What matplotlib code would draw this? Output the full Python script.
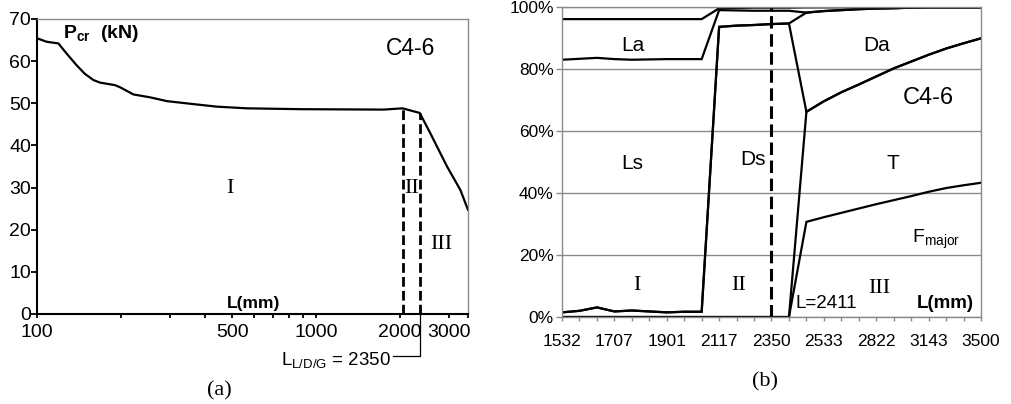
import numpy as np
import matplotlib
matplotlib.use('Agg')
import matplotlib.pyplot as plt
from matplotlib.ticker import FixedLocator, FixedFormatter, NullLocator

plt.rcParams['font.family'] = ['Liberation Sans', 'DejaVu Sans']
plt.rcParams['mathtext.fontset'] = 'custom'
plt.rcParams['mathtext.rm'] = 'Liberation Sans'
plt.rcParams['mathtext.bf'] = 'Liberation Sans:bold'
plt.rcParams['mathtext.it'] = 'Liberation Sans:italic'
plt.rcParams['lines.scale_dashes'] = False

# (a) critical load vs column length, log x
length_mm = [100, 108, 119, 127, 138, 148, 159, 168, 190, 198, 221, 254, 292,
             363, 440, 565, 876, 1743, 2040, 2350, 2564, 2944, 3288, 3500]
p_cr_kn = [65.4, 64.6, 64.2, 61.9, 59.1, 57.0, 55.5, 54.9, 54.3, 53.8, 52.1,
           51.4, 50.5, 49.8, 49.2, 48.8, 48.6, 48.5, 48.8, 47.7, 42.9, 35.0,
           29.4, 24.7]
limit_mm = [2040, 2350]
limit_p = [48.8, 47.7]
a_ticks = [100, 200, 300, 400, 500, 600, 700, 800, 900, 1000, 2000, 3000, 3500]
a_labels = ['100', '', '', '', '500', '', '', '', '', '1000', '2000', '3000', '']
a_yticks = [0, 10, 20, 30, 40, 50, 60, 70]

# (b) modal participation, stacked, one value per length step
b_labels = ['1532', '1707', '1901', '2117', '2350', '2533', '2822', '3143', '3500']
f_major = [0] * 14 + [30.7, 32.2, 33.6, 35.0, 36.4, 37.7, 39.0, 40.4, 41.6, 42.5, 43.3]
t_mode = [0] * 14 + [35.5, 37.4, 38.9, 40.0, 41.2, 42.5, 43.4, 44.2, 45.0, 45.8, 46.6]
ds = [1.5, 2.0, 3.1, 1.8, 2.1, 1.8, 1.5, 1.7, 1.7,
      93.6, 94.0, 94.2, 94.5, 94.7] + [0] * 11
da = [0] * 14 + [32.0, 29.1, 26.5, 24.3, 21.9, 19.4, 17.4, 15.3, 13.3, 11.6, 10.0]
ls = [81.5, 81.3, 80.5, 81.4, 80.9, 81.3, 81.7, 81.5, 81.5,
      5.4, 4.9, 4.6, 4.3, 4.1] + [0] * 11
la = [13.1, 12.8, 12.5, 12.9, 13.1, 13.0, 12.9, 12.9, 12.9,
      0.6, 0.8, 1.0, 1.0, 1.0, 1.7, 1.2, 0.9, 0.6, 0.4, 0.3, 0.1, 0, 0, 0, 0]
b_mark = 12  # L = 2350

fig = plt.figure(figsize=(10.11, 4.04), dpi=100)
gray = '#8a8a8a'
serif = 'Liberation Serif'

# ---- panel (a)
ax = fig.add_axes([0.0369, 0.2228, 0.4260, 0.7302])
ax.plot(length_mm, p_cr_kn, color='k', lw=1.6)
for L, p in zip(limit_mm, limit_p):
    ax.plot([L, L], [0, p], color='k', lw=2.0, dashes=(7, 3))
ax.plot([limit_mm[1], limit_mm[1], 1888], [0, -9.9, -9.9], color='k', lw=0.9,
        clip_on=False)
ax.set_xscale('log')
ax.set_xlim(100, 3500)
ax.set_ylim(0, 70)
ax.xaxis.set_major_locator(FixedLocator(a_ticks))
ax.xaxis.set_major_formatter(FixedFormatter(a_labels))
ax.xaxis.set_minor_locator(NullLocator())
ax.set_yticks(a_yticks)
ax.tick_params(axis='both', labelsize=14, direction='out', width=1.3, color='k')
ax.tick_params(axis='x', length=3, pad=4.5)
ax.tick_params(axis='y', length=4, pad=0.5)
for s in ['left', 'bottom']:
    ax.spines[s].set_linewidth(1.5)
for s in ['top', 'right']:
    ax.spines[s].set_color(gray)
    ax.spines[s].set_linewidth(1.0)

ax.text(124, 66.6, r'$\mathbf{P}_{\mathbf{cr}}$  (kN)', fontsize=14,
        fontweight='bold', va='center', ha='left')
ax.text(2174, 63.0, 'C4-6', fontsize=16.5, ha='center', va='center')
ax.text(489, 29.8, 'I', family=serif, fontsize=16, ha='center', va='center')
ax.text(2193, 29.8, 'II', family=serif, fontsize=16, ha='center', va='center')
ax.text(2803, 16.6, 'III', family=serif, fontsize=16, ha='center', va='center')
ax.text(596, 2.4, 'L(mm)', fontsize=12.5, fontweight='bold', ha='center',
        va='center')
ax.text(1843, -10.8, r'L$_{\mathrm{L/D/G}}$ = 2350', fontsize=13.5, ha='right',
        va='center', clip_on=False)
ax.text(0.422, -0.26, '(a)', family=serif, fontsize=16, ha='center', va='center',
        transform=ax.transAxes)

# ---- panel (b)
bx = fig.add_axes([0.5559, 0.2153, 0.4144, 0.7673])
idx = np.arange(len(f_major))
stack = np.cumsum(np.array([f_major, t_mode, ds, da, ls, la]), axis=0)
for row in stack:
    bx.plot(idx, row, color='k', lw=1.6, solid_joinstyle='miter')
bx.axvline(b_mark, color='k', lw=2.2, dashes=(9, 4))
bx.set_xlim(0, len(idx) - 1)
bx.set_ylim(0, 100)
bx.set_xticks(idx)
bx.set_xticklabels([b_labels[i // 3] if i % 3 == 0 else '' for i in idx])
bx.set_yticks(range(0, 101, 20))
bx.set_yticklabels(['%d%%' % v for v in range(0, 101, 20)])
bx.yaxis.grid(True, color=gray, lw=1.0)
bx.set_axisbelow(True)
bx.tick_params(axis='both', labelsize=12.5, direction='out', color=gray, width=1)
bx.tick_params(axis='x', length=3, pad=9)
bx.tick_params(axis='y', length=4, pad=2)
for s in bx.spines.values():
    s.set_color(gray)
    s.set_linewidth(1.0)

bx.text(4.08, 87.7, 'La', fontsize=15, ha='center', va='center')
bx.text(4.05, 49.6, 'Ls', fontsize=15, ha='center', va='center')
bx.text(10.96, 50.9, 'Ds', fontsize=15, ha='center', va='center')
bx.text(18.0, 87.7, 'Da', fontsize=15, ha='center', va='center')
bx.text(21.0, 70.5, 'C4-6', fontsize=17, ha='center', va='center')
bx.text(18.97, 49.6, 'T', fontsize=15, ha='center', va='center')
bx.text(21.4, 25.0, r'F$_{\mathrm{major}}$', fontsize=14, ha='center', va='center')
bx.text(4.28, 10.3, 'I', family=serif, fontsize=16, ha='center', va='center')
bx.text(10.14, 10.3, 'II', family=serif, fontsize=16, ha='center', va='center')
bx.text(18.2, 9.3, 'III', family=serif, fontsize=16, ha='center', va='center')
bx.text(13.35, 4.4, 'L=2411', fontsize=13.5, ha='left', va='center')
bx.text(23.6, 4.4, 'L(mm)', fontsize=13.5, fontweight='bold', ha='right',
        va='center')
bx.text(0.4845, -0.209, '(b)', family=serif, fontsize=16, ha='center',
        va='center', transform=bx.transAxes)

fig.savefig('out.png', dpi=100)
